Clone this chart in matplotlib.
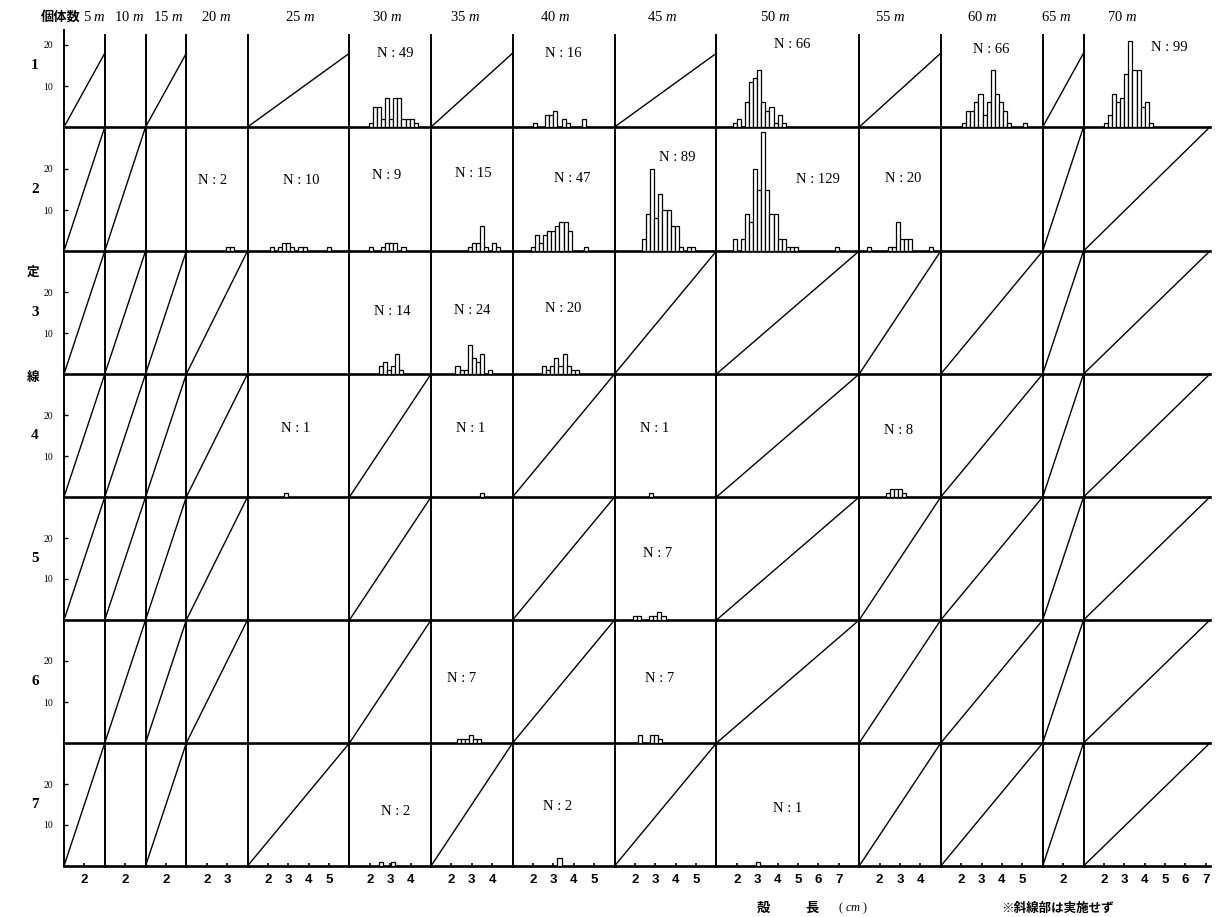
import matplotlib
matplotlib.use("Agg")
import matplotlib.pyplot as plt

plt.rcParams['font.family'] = ['Liberation Serif', 'Noto Sans CJK JP']
plt.rcParams['mathtext.fontset'] = 'custom'
plt.rcParams['mathtext.it'] = 'Liberation Serif:italic'
plt.rcParams['mathtext.rm'] = 'Liberation Serif'

# ---- data ----
distances = ['5', '10', '15', '20', '25', '30', '35', '40', '45', '50', '55', '60', '65', '70']
lines = ['1', '2', '3', '4', '5', '6', '7']
col_max_cm = [3, 3, 3, 4, 6, 5, 5, 6, 6, 8, 5, 6, 3, 7.2]
xtick_labels = [[2], [2], [2], [2, 3], [2, 3, 4, 5], [2, 3, 4], [2, 3, 4], [2, 3, 4, 5],
                [2, 3, 4, 5], [2, 3, 4, 5, 6, 7], [2, 3, 4], [2, 3, 4, 5], [2], [2, 3, 4, 5, 6, 7]]
ytick_values = [10, 20]
bin_width = 0.2  # cm

# d = 斜線 (not surveyed), h = histogram, . = surveyed / empty
cell_status = [
    "d.d.dhdhdhdhdh",
    "dd.hhhhhhhh.dd",
    "dddd.hhhdddddd",
    "ddddhdhdhdhddd",
    "dddd.d.dhddddd",
    ".ddd.dhdhddddd",
    "d.d.dhdhdhdddd",
]

# (line, distance) -> first bin left edge in cm / counts per 0.2 cm bin
hist_start = {
    ('1', '30'): 1.95, ('1', '40'): 2.0, ('1', '50'): 1.8, ('1', '60'): 2.05, ('1', '70'): 2.0,
    ('2', '20'): 2.95, ('2', '25'): 2.1, ('2', '30'): 1.95, ('2', '35'): 2.8, ('2', '40'): 1.9,
    ('2', '45'): 2.35, ('2', '50'): 1.8, ('2', '55'): 1.4,
    ('3', '30'): 2.45, ('3', '35'): 2.2, ('3', '40'): 2.45,
    ('4', '25'): 2.8, ('4', '35'): 3.4, ('4', '45'): 2.7, ('4', '55'): 2.3,
    ('5', '45'): 1.9,
    ('6', '35'): 2.25, ('6', '45'): 2.15,
    ('7', '30'): 2.45, ('7', '40'): 3.2, ('7', '50'): 2.95,
}
hist_counts = {
    ('1', '30'): [1, 5, 5, 2, 7, 2, 7, 7, 2, 2, 2, 1],
    ('1', '40'): [1, 0, 0, 3, 3, 4, 0, 2, 1, 0, 0, 0, 2],
    ('1', '50'): [1, 2, 0, 6, 11, 12, 14, 6, 4, 5, 1, 3, 1],
    ('1', '60'): [1, 4, 4, 6, 8, 3, 6, 14, 8, 6, 4, 1, 0, 0, 0, 1],
    ('1', '70'): [1, 3, 8, 6, 7, 13, 21, 14, 14, 5, 6, 1],
    ('2', '20'): [1, 1],
    ('2', '25'): [1, 0, 1, 2, 2, 1, 0, 1, 1, 0, 0, 0, 0, 0, 1],
    ('2', '30'): [1, 0, 0, 1, 2, 2, 2, 0, 1],
    ('2', '35'): [1, 2, 2, 6, 1, 0, 2, 1],
    ('2', '40'): [1, 4, 2, 4, 5, 5, 6, 7, 7, 5, 0, 0, 0, 1],
    ('2', '45'): [3, 9, 20, 8, 14, 10, 10, 6, 6, 1, 0, 1, 1],
    ('2', '50'): [3, 0, 3, 9, 7, 20, 15, 29, 15, 9, 9, 3, 3, 1, 1, 1,
                  0, 0, 0, 0, 0, 0, 0, 0, 0, 1],
    ('2', '55'): [1, 0, 0, 0, 0, 1, 1, 7, 3, 3, 3, 0, 0, 0, 0, 1],
    ('3', '30'): [2, 3, 1, 2, 5, 1],
    ('3', '35'): [2, 1, 1, 7, 4, 3, 5, 0, 1],
    ('3', '40'): [2, 1, 2, 4, 2, 5, 2, 1, 1],
    ('4', '25'): [1],
    ('4', '35'): [1],
    ('4', '45'): [1],
    ('4', '55'): [1, 2, 2, 2, 1],
    ('5', '45'): [1, 1, 0, 0, 1, 1, 2, 1],
    ('6', '35'): [1, 1, 1, 2, 1, 1],
    ('6', '45'): [2, 0, 0, 2, 2, 1],
    ('7', '30'): [1, 0, 0, 1],
    ('7', '40'): [2],
    ('7', '50'): [1],
}
n_values = {
    ('1', '30'): 49, ('1', '40'): 16, ('1', '50'): 66, ('1', '60'): 66, ('1', '70'): 99,
    ('2', '20'): 2, ('2', '25'): 10, ('2', '30'): 9, ('2', '35'): 15, ('2', '40'): 47,
    ('2', '45'): 89, ('2', '50'): 129, ('2', '55'): 20,
    ('3', '30'): 14, ('3', '35'): 24, ('3', '40'): 20,
    ('4', '25'): 1, ('4', '35'): 1, ('4', '45'): 1, ('4', '55'): 8,
    ('5', '45'): 7,
    ('6', '35'): 7, ('6', '45'): 7,
    ('7', '30'): 2, ('7', '40'): 2, ('7', '50'): 1,
}

# ---- layout (pixels of the 1216x917 canvas) ----
W, H = 1216, 917
x0_px, px_per_cm = 64, 20.39
row_base_px = [127, 251, 374, 497, 620, 743, 866]
row1_top_px = 35
px_per_count = 4.1
# where the "N : xx" labels sit (cm, count)
n_label_pos = {
    ('1', '30'): (3.27, 18), ('1', '40'): (3.5, 18), ('1', '50'): (4.7, 20),
    ('1', '60'): (3.48, 18.8), ('1', '70'): (5.2, 19.5),
    ('2', '20'): (2.28, 17.3), ('2', '25'): (3.66, 17.3), ('2', '30'): (2.82, 18.5),
    ('2', '35'): (3.07, 19), ('2', '40'): (3.94, 17.8), ('2', '45'): (4.09, 22.7),
    ('2', '50'): (5.97, 17.5), ('2', '55'): (3.17, 17.8),
    ('3', '30'): (3.12, 15.2), ('3', '35'): (3.02, 15.4), ('3', '40'): (3.47, 15.9),
    ('4', '25'): (3.35, 16.8), ('4', '35'): (2.95, 16.7), ('4', '45'): (2.96, 16.8),
    ('4', '55'): (2.91, 16.3),
    ('5', '45'): (3.1, 16.3),
    ('6', '35'): (2.52, 15.8), ('6', '45'): (3.2, 15.8),
    ('7', '30'): (3.25, 13.2), ('7', '40'): (3.2, 14.6), ('7', '50'): (4.5, 14.1),
}
header_x_px = [94, 129, 168, 216, 300, 387, 465, 555, 662, 775, 890, 982, 1056, 1122]


def fx(px):
    return px / W


def fy(py):
    return 1 - py / H


fig = plt.figure(figsize=(W / 100, H / 100), dpi=100)
fig.patch.set_facecolor('white')

col_left = []
acc = x0_px
for hi in col_max_cm:
    col_left.append(acc)
    acc += (hi - 1) * px_per_cm

for r, line in enumerate(lines):
    base = row_base_px[r]
    top = row1_top_px if r == 0 else row_base_px[r - 1]
    ytop = (base - top) / px_per_count
    for c, dist in enumerate(distances):
        hi = col_max_cm[c]
        width = (hi - 1) * px_per_cm
        ax = fig.add_axes([fx(col_left[c]), fy(base), fx(width), (base - top) / H])
        ax.set_xlim(1, hi)
        ax.set_ylim(0, ytop)
        ax.patch.set_alpha(0)
        for s in ('top', 'right'):
            ax.spines[s].set_visible(False)
        ax.spines['left'].set_linewidth(1.4)
        ax.spines['bottom'].set_linewidth(1.9)
        if r == 0 and c == 0:
            # the count axis sticks out a little above the first row
            ax.spines['left'].set_bounds(0, ytop + 1.3)

        if c == 0:
            ax.set_yticks(ytick_values)
            ax.set_yticklabels([str(v) for v in ytick_values], fontsize=7)
            ax.tick_params(axis='y', direction='in', length=3, width=1, pad=8)
        else:
            ax.set_yticks([])
        if r == len(lines) - 1:
            ax.set_xticks(xtick_labels[c])
            ax.set_xticklabels([str(v) for v in xtick_labels[c]], fontsize=9.5,
                               fontweight='bold', family='Liberation Sans')
            ax.tick_params(axis='x', direction='in', length=2.5, width=1.2, pad=6)
        else:
            ax.set_xticks([])

        status = cell_status[r][c]
        if status == 'd':
            diag_top = 18 if r == 0 else ytop
            ax.plot([1, hi], [0, diag_top], color='black', lw=1.0, clip_on=False)
        elif status == 'h':
            key = (line, dist)
            counts = hist_counts[key]
            lefts = [hist_start[key] + i * bin_width for i in range(len(counts))]
            xs = [x for x, v in zip(lefts, counts) if v > 0]
            hs = [v for v in counts if v > 0]
            ax.bar(xs, hs, width=bin_width, align='edge', facecolor='white',
                   edgecolor='black', linewidth=0.9, zorder=3)
            nx, ny = n_label_pos[key]
            ax.text(nx, ny, f"N : {n_values[key]}", ha='center', va='center',
                    fontsize=10.5)

    # line number
    fig.text(fx(35), fy(base - 15 * px_per_count), line, ha='center', va='center',
             fontsize=11, fontweight='bold')

# column headers
fig.text(fx(61), fy(17), "個体数", ha='center', va='center', fontsize=9.5,
         family='Noto Sans CJK JP', fontweight='bold')
for dist, hx in zip(distances, header_x_px):
    fig.text(fx(hx), fy(17), f"{dist} $m$", ha='center', va='center', fontsize=10.5)

# vertical label of the left side
fig.text(fx(33), fy(272), "定", ha='center', va='center', fontsize=9,
         family='Noto Sans CJK JP', fontweight='bold')
fig.text(fx(33), fy(378), "線", ha='center', va='center', fontsize=9,
         family='Noto Sans CJK JP', fontweight='bold')

# bottom captions
fig.text(fx(763), fy(908), "殻", ha='center', va='center', fontsize=9.5,
         family='Noto Sans CJK JP', fontweight='bold')
fig.text(fx(812), fy(908), "長", ha='center', va='center', fontsize=9.5,
         family='Noto Sans CJK JP', fontweight='bold')
fig.text(fx(853), fy(908), "( $cm$ )", ha='center', va='center', fontsize=9)
fig.text(fx(1058), fy(908), "※斜線部は実施せず", ha='center', va='center', fontsize=9,
         family='Noto Sans CJK JP', fontweight='bold')

fig.savefig("out.png", dpi=100, facecolor='white')
